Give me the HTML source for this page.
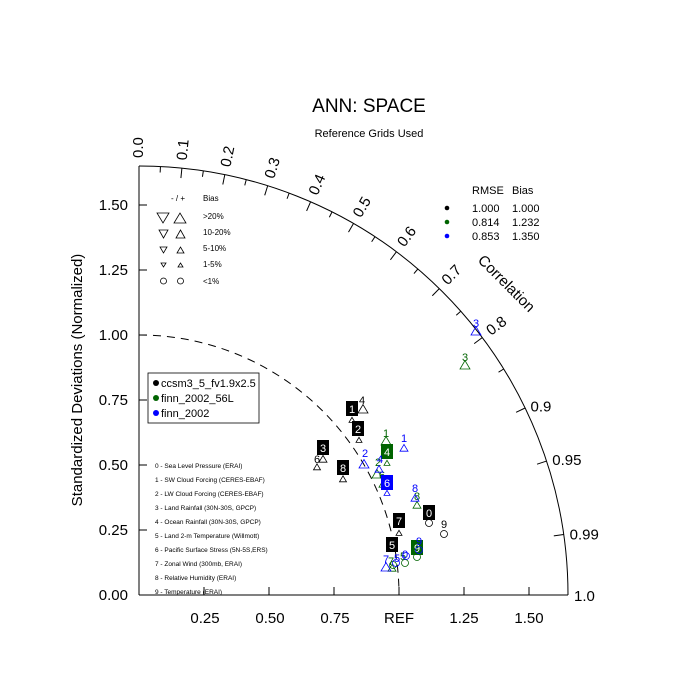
<!DOCTYPE html>
<html><head><meta charset="utf-8"><style>
html,body{margin:0;padding:0;background:#fff;width:700px;height:700px;overflow:hidden}
text{font-family:"Liberation Sans",Arial,sans-serif}
</style></head><body>
<svg id="s" width="700" height="700" xmlns="http://www.w3.org/2000/svg">
<text x="369" y="112" font-size="19" text-anchor="middle">ANN: SPACE</text>
<text x="369" y="137" font-size="11" text-anchor="middle">Reference Grids Used</text>
<text transform="translate(82,380) rotate(-90)" font-size="15" text-anchor="middle">Standardized Deviations (Normalized)</text>
<g font-size="15" text-anchor="end">
<text x="128" y="600">0.00</text><text x="128" y="535">0.25</text><text x="128" y="470">0.50</text>
<text x="128" y="405">0.75</text><text x="128" y="340">1.00</text><text x="128" y="275">1.25</text><text x="128" y="210">1.50</text>
</g>
<g font-size="15" text-anchor="middle">
<text x="205" y="623">0.25</text><text x="270" y="623">0.50</text><text x="335" y="623">0.75</text>
<text x="399" y="623">REF</text><text x="464" y="623">1.25</text><text x="529" y="623">1.50</text>
</g>
<text transform="translate(503,287) rotate(45)" font-size="15" text-anchor="middle">Correlation</text>
<g id="g"></g>
<path d="M139,335 A260,260 0 0 1 399,595" fill="none" stroke="#000" stroke-dasharray="8,6" stroke-width="1"/>
<g font-size="8">
<text x="171" y="201">- / +</text><text x="203" y="201">Bias</text>
<text x="203" y="219">&gt;20%</text><text x="203" y="235">10-20%</text><text x="203" y="251">5-10%</text><text x="203" y="267">1-5%</text><text x="203" y="284">&lt;1%</text>
</g>
<g fill="none" stroke="#000" stroke-width="0.8">
<path d="M157,213 h12 l-6,10z"/><path d="M174,223 h12 l-6,-10z"/>
<path d="M159,230 h9 l-4.5,8z"/><path d="M176,238 h9 l-4.5,-8z"/>
<path d="M160,247 h7 l-3.5,6z"/><path d="M177,253 h7 l-3.5,-6z"/>
<path d="M161,263 h5 l-2.5,4z"/><path d="M178,267 h5 l-2.5,-4z"/>
<circle cx="163.5" cy="281" r="3"/><circle cx="180.5" cy="281" r="3"/>
</g>
<g font-size="11">
<text x="472" y="194">RMSE</text><text x="512" y="194">Bias</text>
<circle cx="447" cy="208" r="2.3"/><text x="472" y="212">1.000</text><text x="512" y="212">1.000</text>
<circle cx="447" cy="222" r="2.3" fill="#006400"/><text x="472" y="226">0.814</text><text x="512" y="226">1.232</text>
<circle cx="447" cy="236" r="2.3" fill="#00f"/><text x="472" y="240">0.853</text><text x="512" y="240">1.350</text>
</g>
<rect x="148" y="373" width="111" height="50" fill="#fff" stroke="#000" stroke-width="0.8"/>
<g font-size="11">
<circle cx="156" cy="383" r="3"/><text x="161" y="387">ccsm3_5_fv1.9x2.5</text>
<circle cx="156" cy="398" r="3" fill="#006400"/><text x="161" y="402">finn_2002_56L</text>
<circle cx="156" cy="413" r="3" fill="#00f"/><text x="161" y="417">finn_2002</text>
</g>
<g font-size="6.5">
<text x="155" y="468">0 - Sea Level Pressure (ERAI)</text>
<text x="155" y="482">1 - SW Cloud Forcing (CERES-EBAF)</text>
<text x="155" y="496">2 - LW Cloud Forcing (CERES-EBAF)</text>
<text x="155" y="510">3 - Land Rainfall (30N-30S, GPCP)</text>
<text x="155" y="524">4 - Ocean Rainfall (30N-30S, GPCP)</text>
<text x="155" y="538">5 - Land 2-m Temperature (Willmott)</text>
<text x="155" y="552">6 - Pacific Surface Stress (5N-5S,ERS)</text>
<text x="155" y="566">7 - Zonal Wind (300mb, ERAI)</text>
<text x="155" y="580">8 - Relative Humidity (ERAI)</text>
<text x="155" y="594">9 - Temperature (ERAI)</text>
</g>
<g id="p"></g>
</svg>
<script>
var NS="http://www.w3.org/2000/svg",g=document.getElementById('g'),P=document.getElementById('p');
function el(par,t,a,txt){var e=document.createElementNS(NS,t);for(var k in a)e.setAttribute(k,a[k]);if(txt!=null)e.textContent=txt;par.appendChild(e);return e;}
var ox=139,oy=595,R=429;
el(g,'line',{x1:ox,y1:166,x2:ox,y2:oy,stroke:'#000'});
el(g,'line',{x1:ox,y1:oy,x2:ox+R,y2:oy,stroke:'#000'});
el(g,'path',{d:'M'+ox+','+(oy-R)+' A'+R+','+R+' 0 0 1 '+(ox+R)+','+oy,fill:'none',stroke:'#000'});
for(var i=1;i<=6;i++){var d=i*65;el(g,'line',{x1:ox,y1:oy-d,x2:ox+8,y2:oy-d,stroke:'#000'});el(g,'line',{x1:ox+d,y1:oy,x2:ox+d,y2:oy-8,stroke:'#000'});}
var cs=[];for(var c=0.05;c<0.9;c+=0.05)cs.push(Math.round(c*100)/100);cs=cs.concat([0.9,0.95,0.99]);
for(var k=0;k<cs.length;k++){var c=cs[k],th=Math.acos(c),ca=Math.cos(th),sa=Math.sin(th);
 var maj=(Math.round(c*100)%10==0)||c>=0.9;var L=maj?10:6;
 el(g,'line',{x1:ox+R*ca,y1:oy-R*sa,x2:ox+(R-L)*ca,y2:oy-(R-L)*sa,stroke:'#000'});}
var labs=[0,0.1,0.2,0.3,0.4,0.5,0.6,0.7,0.8];
for(var k=0;k<labs.length;k++){var c=labs[k],th=Math.acos(c),rr=R+8;
 var x=ox+rr*Math.cos(th),y=oy-rr*Math.sin(th),deg=th*180/Math.PI;
 el(g,'text',{x:x,y:y,'font-size':15,'text-anchor':'start','dominant-baseline':'middle',transform:'rotate('+(-deg)+' '+x+' '+y+')'},c==0?'0.0':String(c));
}
var hi=[[0.9,'0.9'],[0.95,'0.95'],[0.99,'0.99'],[1.0,'1.0']];
for(var k=0;k<hi.length;k++){var th=Math.acos(hi[k][0]),rr=R+6;
 var x=ox+rr*Math.cos(th),y=oy-rr*Math.sin(th);
 el(g,'text',{x:x,y:y+6,'font-size':15,'text-anchor':'start'},hi[k][1]);}
function tri(x,y,s,col){el(P,'path',{d:'M'+(x-s)+','+(y+s*0.8)+' h'+(2*s)+' l'+(-s)+','+(-1.7*s)+'z',fill:'none',stroke:col,'stroke-width':0.8});}
function cir(x,y,col){el(P,'circle',{cx:x,cy:y,r:3.5,fill:'none',stroke:col,'stroke-width':0.8});}
function lab(x,y,t,col){el(P,'text',{x:x,y:y,'font-size':11,fill:col,'text-anchor':'middle'},t);}
function box(x,y,t,col){el(P,'rect',{x:x-6,y:y-8,width:12,height:15,fill:col});el(P,'text',{x:x,y:y+4,'font-size':11,fill:'#fff','text-anchor':'middle'},t);}
var K='#000',G='#006400',B='#00f';
box(352,409,'1',K);lab(362,404,'4',K);tri(363,409,5,K);tri(352,420,3,K);
box(358,429,'2',K);tri(359,440,3,K);
box(323,448,'3',K);lab(317,463,'6',K);tri(323,459,4,K);tri(317,467,3.5,K);
box(343,468,'8',K);tri(343,479,3.5,K);
box(399,521,'7',K);tri(399,533,3,K);
box(392,545,'5',K);
box(429,513,'0',K);cir(429,523,K);
lab(444,528,'9',K);cir(444,534,K);
lab(386,437,'1',G);tri(386,441,5,G);box(387,452,'4',G);tri(387,463,3,G);
lab(465,361,'3',G);tri(465,365,5,G);
lab(378,466,'2',G);tri(377,474,5,G);lab(382,479,'6',G);tri(383,484,4,G);
lab(417,500,'8',G);tri(417,505,4,G);
box(417,548,'9',G);cir(417,557,G);
lab(391,565,'7',G);cir(393,565,G);cir(405,563,G);lab(403,560,'5',G);tri(392,568,4,G);
lab(476,327,'3',B);tri(476,331,5,B);
lab(404,442,'1',B);tri(404,448,4,B);
lab(365,457,'2',B);tri(364,464,5,B);lab(380,463,'4',B);tri(379,469,4,B);
box(387,483,'6',B);tri(387,493,3,B);
lab(415,492,'8',B);tri(415,498,4,B);
lab(419,545,'9',B);cir(419,550,B);
lab(386,563,'7',B);tri(386,567,5,B);lab(397,562,'5',B);cir(396,563,B);lab(405,558,'0',B);cir(406,556,B);
</script>
</body></html>
